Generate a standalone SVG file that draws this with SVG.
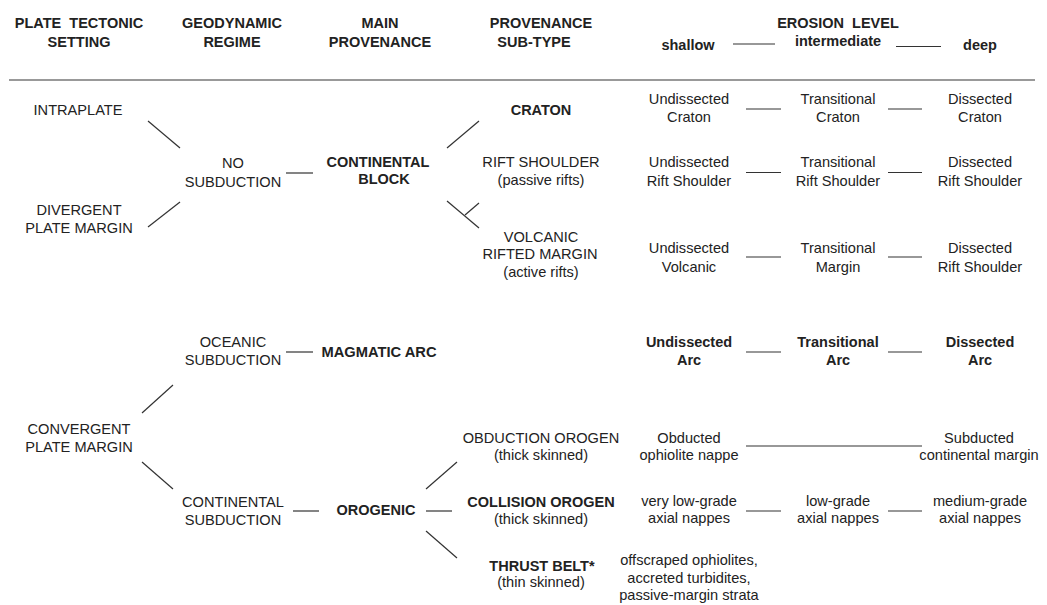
<svg xmlns="http://www.w3.org/2000/svg" width="1047" height="605" viewBox="0 0 1047 605">
<style>
text{font-family:"Liberation Sans",Arial,Helvetica,sans-serif;fill:#222;text-anchor:middle;font-size:14.6px}
.b{font-weight:bold;font-size:14.5px}
.ws{word-spacing:4px}
#connectors line{stroke:#333;stroke-width:1.2;fill:none}
</style>
<rect width="1047" height="605" fill="#fff"/>
<g id="header">
<text class="b ws" x="79" y="28">PLATE TECTONIC</text>
<text class="b" x="79" y="47">SETTING</text>
<text class="b" x="232" y="28">GEODYNAMIC</text>
<text class="b" x="232" y="47">REGIME</text>
<text class="b" x="380" y="28">MAIN</text>
<text class="b" x="380" y="47">PROVENANCE</text>
<text class="b" x="541" y="28">PROVENANCE</text>
<text class="b" x="534" y="47">SUB-TYPE</text>
<text class="b ws" x="838" y="28">EROSION LEVEL</text>
<text class="b" x="688" y="50">shallow</text>
<text class="b" x="838" y="46">intermediate</text>
<text class="b" x="980" y="50">deep</text>
<line x1="733" y1="44" x2="775" y2="44" stroke="#333" stroke-width="1.2"/>
<line x1="896" y1="46.5" x2="941" y2="46.5" stroke="#333" stroke-width="1.2"/>
<line x1="9" y1="80" x2="1035" y2="80" stroke="#999" stroke-width="2"/>
</g>
<g id="n-intraplate"><text x="78" y="115">INTRAPLATE</text></g>
<g id="n-divergent"><text x="79" y="215">DIVERGENT</text><text x="79" y="233">PLATE MARGIN</text></g>
<g id="n-convergent"><text x="79" y="434">CONVERGENT</text><text x="79" y="452">PLATE MARGIN</text></g>
<g id="n-nosubduction"><text x="233" y="168">NO</text><text x="233" y="187">SUBDUCTION</text></g>
<g id="n-oceanic"><text x="233" y="347">OCEANIC</text><text x="233" y="365">SUBDUCTION</text></g>
<g id="n-contsubduction"><text x="233" y="507">CONTINENTAL</text><text x="233" y="525">SUBDUCTION</text></g>
<g id="n-contblock"><text class="b" x="378" y="167">CONTINENTAL</text><text class="b" x="384" y="184">BLOCK</text></g>
<g id="n-magmaticarc"><text class="b" x="379" y="357" textLength="115" lengthAdjust="spacingAndGlyphs">MAGMATIC ARC</text></g>
<g id="n-orogenic"><text class="b" x="376" y="515">OROGENIC</text></g>
<g id="n-craton"><text class="b" x="541" y="115">CRATON</text></g>
<g id="n-riftshoulder"><text x="541" y="167">RIFT SHOULDER</text><text x="541" y="185">(passive rifts)</text></g>
<g id="n-volcanic"><text x="541" y="241.5">VOLCANIC</text><text x="540" y="259">RIFTED MARGIN</text><text x="541" y="277">(active rifts)</text></g>
<g id="n-obduction"><text x="541" y="443">OBDUCTION OROGEN</text><text x="541" y="460">(thick skinned)</text></g>
<g id="n-collision"><text class="b" x="541" y="507">COLLISION OROGEN</text><text x="541" y="524">(thick skinned)</text></g>
<g id="n-thrust"><text class="b" x="542" y="571">THRUST BELT*</text><text x="541" y="587">(thin skinned)</text></g>
<g id="n-e-craton">
<text x="689" y="104">Undissected</text><text x="689" y="122">Craton</text>
<text x="838" y="104">Transitional</text><text x="838" y="122">Craton</text>
<text x="980" y="104">Dissected</text><text x="980" y="122">Craton</text>
</g>
<g id="n-e-rift">
<text x="689" y="167">Undissected</text><text x="689" y="186">Rift Shoulder</text>
<text x="838" y="167">Transitional</text><text x="838" y="186">Rift Shoulder</text>
<text x="980" y="167">Dissected</text><text x="980" y="186">Rift Shoulder</text>
</g>
<g id="n-e-volcanic">
<text x="689" y="253">Undissected</text><text x="689" y="271.5">Volcanic</text>
<text x="838" y="253">Transitional</text><text x="838" y="271.5">Margin</text>
<text x="980" y="253">Dissected</text><text x="980" y="271.5">Rift Shoulder</text>
</g>
<g id="n-e-arc">
<text class="b" x="689" y="347">Undissected</text><text class="b" x="689" y="365">Arc</text>
<text class="b" x="838" y="347">Transitional</text><text class="b" x="838" y="365">Arc</text>
<text class="b" x="980" y="347">Dissected</text><text class="b" x="980" y="365">Arc</text>
</g>
<g id="n-e-obduction">
<text x="689" y="443">Obducted</text><text x="689" y="460">ophiolite nappe</text>
<text x="979" y="443">Subducted</text><text x="979" y="460">continental margin</text>
</g>
<g id="n-e-collision">
<text x="689" y="506">very low-grade</text><text x="689" y="523">axial nappes</text>
<text x="838" y="506">low-grade</text><text x="838" y="523">axial nappes</text>
<text x="980" y="506">medium-grade</text><text x="980" y="523">axial nappes</text>
</g>
<g id="n-e-thrust">
<text x="689" y="565">offscraped ophiolites,</text>
<text x="689" y="582.5">accreted turbidites,</text>
<text x="689" y="600">passive-margin strata</text>
</g>
<g id="connectors">
<line x1="148" y1="121" x2="180" y2="148"/>
<line x1="180" y1="202" x2="148" y2="227"/>
<line x1="286" y1="173" x2="313" y2="173"/>
<line x1="447" y1="148" x2="479" y2="121"/>
<line x1="447" y1="201" x2="479" y2="228"/>
<line x1="465" y1="215" x2="479" y2="203"/>
<line x1="746" y1="109" x2="781" y2="109"/>
<line x1="888" y1="109" x2="922" y2="109"/>
<line x1="746" y1="172.5" x2="781" y2="172.5"/>
<line x1="888" y1="172.5" x2="922" y2="172.5"/>
<line x1="746" y1="257" x2="781" y2="257"/>
<line x1="888" y1="257" x2="922" y2="257"/>
<line x1="142" y1="413" x2="173" y2="385"/>
<line x1="142" y1="462" x2="173" y2="489"/>
<line x1="286" y1="352" x2="313" y2="352"/>
<line x1="746" y1="352" x2="781" y2="352"/>
<line x1="888" y1="352" x2="922" y2="352"/>
<line x1="293" y1="511" x2="319" y2="511"/>
<line x1="426" y1="489" x2="457" y2="462"/>
<line x1="426" y1="511" x2="452" y2="511"/>
<line x1="426" y1="531" x2="457" y2="558"/>
<line x1="746" y1="446" x2="922" y2="446"/>
<line x1="746" y1="511" x2="781" y2="511"/>
<line x1="888" y1="511" x2="922" y2="511"/>
</g>
</svg>
